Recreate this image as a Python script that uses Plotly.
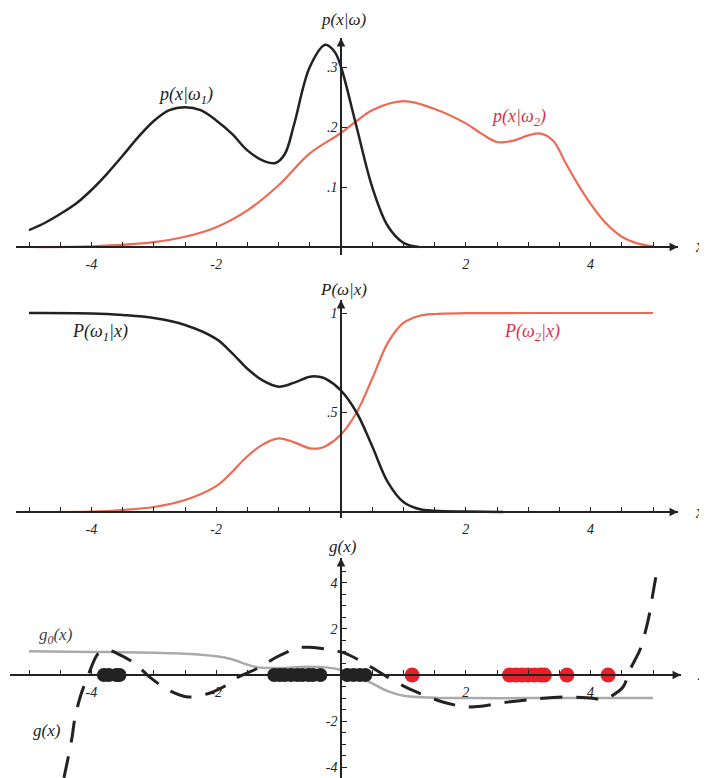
import plotly.graph_objects as go

W, H = 707, 778
OFF = 8  # page body margin that the browser adds around the figure
FONT = "Liberation Serif"
BLACK = "#222222"
RED_LINE = "#ee6a55"
RED_TEXT = "#d8304c"
RED_DOT = "#e8202a"
GRAY = "#aaaaaa"

# ---------------- data: panel 1, class-conditional densities ----------------
x_p1 = [-5, -4.75, -4.5, -4.25, -4, -3.75, -3.5, -3.25, -3, -2.75, -2.5, -2.25, -2,
        -1.75, -1.5, -1.25, -1.05, -0.9, -0.75, -0.5, -0.25, -0.1, 0, 0.25, 0.5,
        0.75, 1.0, 1.25]
p_w1 = [0.028, 0.040, 0.055, 0.072, 0.095, 0.122, 0.152, 0.183, 0.210, 0.228, 0.233,
        0.228, 0.211, 0.189, 0.161, 0.144, 0.140, 0.155, 0.205, 0.300, 0.337, 0.325,
        0.300, 0.200, 0.100, 0.035, 0.007, 0.0]
x_p2 = [-5, -4, -3, -2.5, -2, -1.5, -1, -0.5, 0, 0.25, 0.5, 1.0, 1.5, 2.0, 2.25, 2.5,
        2.75, 3.0, 3.2, 3.4, 3.6, 3.8, 4.0, 4.25, 4.5, 4.75, 5]
p_w2 = [0.0, 0.001, 0.008, 0.017, 0.033, 0.061, 0.103, 0.156, 0.190, 0.210, 0.228,
        0.243, 0.230, 0.206, 0.189, 0.175, 0.177, 0.186, 0.189, 0.177, 0.140, 0.104,
        0.072, 0.039, 0.017, 0.006, 0.001]

# ---------------- data: panel 2, posteriors ----------------
x_post1 = [-5, -4, -3.5, -3, -2.5, -2, -1.75, -1.5, -1.25, -1.0, -0.75, -0.5, -0.35,
           -0.25, 0, 0.25, 0.5, 0.75, 1.0, 1.25, 1.5, 2.0, 2.6]
post_w1 = [1.0, 0.998, 0.99, 0.975, 0.94, 0.87, 0.80, 0.72, 0.66, 0.63, 0.65, 0.68,
           0.68, 0.67, 0.61, 0.50, 0.33, 0.15, 0.05, 0.015, 0.006, 0.002, 0.0]
x_post2 = [-5, -4, -3.5, -3, -2.5, -2, -1.75, -1.5, -1.25, -1.0, -0.75, -0.5, -0.35,
           -0.25, 0, 0.25, 0.5, 0.75, 1.0, 1.25, 1.5, 2.0, 3.0, 5.0]
post_w2 = [0.0, 0.002, 0.01, 0.025, 0.06, 0.13, 0.20, 0.28, 0.34, 0.37, 0.35, 0.32,
           0.32, 0.33, 0.39, 0.50, 0.67, 0.85, 0.95, 0.985, 0.995, 0.999, 1.0, 1.0]

# ---------------- data: panel 3, discriminants and samples ----------------
x_g0 = [-5, -4, -3.5, -3, -2.5, -2, -1.75, -1.5, -1.33, -1.0, -0.75, -0.5, -0.25, 0,
        0.25, 0.5, 0.75, 1.0, 1.5, 2.0, 3.0, 4.0, 5.0]
g0_vals = [1.03, 1.0, 0.99, 0.96, 0.92, 0.81, 0.68, 0.45, 0.33, 0.30, 0.33, 0.36,
           0.33, 0.22, 0.0, -0.36, -0.70, -0.90, -0.98, -1.0, -1.0, -1.0, -1.0]
x_g = [-4.44, -4.37, -4.31, -4.27, -4.18, -4.05, -3.9, -3.75, -3.6, -3.33, -3.06,
       -2.77, -2.45, -2.1, -1.78, -1.65, -1.33, -1.03, -0.69, -0.5, -0.26, 0.06, 0.43,
       0.74, 1.07, 1.63, 2.0, 2.25, 2.6, 3.0, 3.6, 4.0, 4.2, 4.31, 4.52, 4.63, 4.79,
       4.88, 4.95, 5.0, 5.06]
g_vals = [-4.45, -3.55, -2.7, -1.95, -0.95, 0.0, 0.9, 1.1, 0.95, 0.55, -0.1, -0.65,
          -0.95, -0.78, -0.36, -0.1, 0.3, 0.78, 1.18, 1.2, 1.13, 0.95, 0.43, -0.08,
          -0.57, -1.17, -1.38, -1.35, -1.2, -1.07, -0.95, -1.0, -1.05, -0.95, -0.52,
          0.22, 1.08, 1.9, 2.73, 3.55, 4.46]
dots_w1 = [-3.8, -3.72, -3.6, -3.55, -1.07, -0.98, -0.9, -0.8, -0.7, -0.62, -0.52,
           -0.45, -0.33, 0.1, 0.2, 0.3, 0.39]
dots_w2 = [1.14, 2.70, 2.8, 2.9, 3.0, 3.1, 3.2, 3.26, 3.62, 4.28]

# ---------------- ticks ----------------
x_tickvals = [-4, -2, 2, 4]
x_ticktext = ["-4", "-2", "2", "4"]
x_minorvals = [-5, -4.5, -3.5, -3, -2.5, -1.5, -1, -0.5, 0.5, 1, 1.5, 2.5, 3, 3.5,
               4.5, 5]
y1_tickvals = [0.1, 0.2, 0.3]
y1_ticktext = [".1", ".2", ".3"]
y2_tickvals = [0.5, 1]
y2_ticktext = [".5", "1"]
y3_tickvals = [-4, -2, 2, 4]
y3_ticktext = ["-4", "-2", "2", "4"]
y3_minorvals = [-3.5, -3, -2.5, -1.5, -1, -0.5, 0.5, 1, 1.5, 2.5, 3, 3.5, 4.5]

# ---------------- geometry (pixels in the 707x778 window) ----------------
X0PX, UX = 341.0, 62.4
panels = [
    # x domain px, y domain px (bottom, top), y zero px, px per unit
    dict(xd=(16, 678), yd=(255, 38), y0=247.0, uy=600.0, minor=None),
    dict(xd=(16, 678), yd=(518, 300), y0=512.0, uy=199.0, minor=None),
    dict(xd=(10, 681), yd=(778, 558), y0=675.0, uy=23.1, minor=y3_minorvals),
]


def fx(p):  # window px -> paper x
    return (p - OFF) / W


def fy(p):  # window px -> paper y
    return 1 - (p - OFF) / H


fig = go.Figure()

# Panel 1 traces
fig.add_trace(go.Scatter(x=x_p2, y=p_w2, mode="lines", line=dict(color=RED_LINE, width=2.2, shape="spline"),
                         xaxis="x", yaxis="y", hoverinfo="skip"))
fig.add_trace(go.Scatter(x=x_p1, y=p_w1, mode="lines", line=dict(color=BLACK, width=2.5, shape="spline"),
                         xaxis="x", yaxis="y", hoverinfo="skip"))
# Panel 2 traces
fig.add_trace(go.Scatter(x=x_post2, y=post_w2, mode="lines", line=dict(color=RED_LINE, width=2.2, shape="spline"),
                         xaxis="x2", yaxis="y2", hoverinfo="skip"))
fig.add_trace(go.Scatter(x=x_post1, y=post_w1, mode="lines", line=dict(color=BLACK, width=2.5, shape="spline"),
                         xaxis="x2", yaxis="y2", hoverinfo="skip"))
# Panel 3 traces
fig.add_trace(go.Scatter(x=x_g0, y=g0_vals, mode="lines", line=dict(color=GRAY, width=2.5, shape="spline"),
                         xaxis="x3", yaxis="y3", hoverinfo="skip"))
fig.add_trace(go.Scatter(x=x_g, y=g_vals, mode="lines",
                         line=dict(color=BLACK, width=3, shape="spline", smoothing=0.8, dash="22px,14px"),
                         xaxis="x3", yaxis="y3", hoverinfo="skip"))
fig.add_trace(go.Scatter(x=dots_w1, y=[0] * len(dots_w1), mode="markers",
                         marker=dict(color=BLACK, size=14, line=dict(width=0)),
                         xaxis="x3", yaxis="y3", hoverinfo="skip"))
fig.add_trace(go.Scatter(x=dots_w2, y=[0] * len(dots_w2), mode="markers",
                         marker=dict(color=RED_DOT, size=15, line=dict(width=0)),
                         xaxis="x3", yaxis="y3", hoverinfo="skip"))

layout = dict(width=W, height=H, margin=dict(l=0, r=0, t=0, b=0),
              paper_bgcolor="white", plot_bgcolor="white", showlegend=False)

yticks = [(y1_tickvals, y1_ticktext), (y2_tickvals, y2_ticktext), (y3_tickvals, y3_ticktext)]
annotations = []
tickfont = dict(family=FONT, size=14, color="#222222", style="italic")

for i, p in enumerate(panels):
    sfx = "" if i == 0 else str(i + 1)
    xr = [(p["xd"][0] - X0PX) / UX, (p["xd"][1] - X0PX) / UX]
    yr = [(p["y0"] - p["yd"][0]) / p["uy"], (p["y0"] - p["yd"][1]) / p["uy"]]
    xdom = [fx(p["xd"][0]), fx(p["xd"][1])]
    ydom = [max(0.0, fy(p["yd"][0])), fy(p["yd"][1])]
    if ydom[0] == 0.0:
        yr[0] = (p["y0"] - (H + OFF)) / p["uy"]
    layout["xaxis" + sfx] = dict(
        domain=xdom, range=xr, anchor="free", position=fy(p["y0"]),
        showline=True, linecolor=BLACK, linewidth=1.5, showgrid=False, zeroline=False,
        tickmode="array", tickvals=x_tickvals, ticktext=x_ticktext,
        ticks="inside", ticklen=4, tickwidth=1, tickcolor=BLACK,
        minor=dict(tickmode="array", tickvals=x_minorvals, ticks="inside", ticklen=4,
                   tickwidth=1, tickcolor=BLACK, showgrid=False),
        tickfont=tickfont, ticklabelstandoff=4, fixedrange=True)
    tv, tt = yticks[i]
    yax = dict(
        domain=ydom, range=yr, anchor="free", position=fx(X0PX),
        showline=True, linecolor=BLACK, linewidth=1.5, showgrid=False, zeroline=False,
        tickmode="array", tickvals=tv, ticktext=tt,
        ticks="inside", ticklen=5, tickwidth=1, tickcolor=BLACK,
        tickfont=tickfont, fixedrange=True)
    if p["minor"] is not None:
        yax["minor"] = dict(tickmode="array", tickvals=p["minor"], ticks="inside", ticklen=4,
                            tickwidth=1, tickcolor=BLACK, showgrid=False)
    layout["yaxis" + sfx] = yax
    xa, ya = "x" + sfx, "y" + sfx
    # arrow heads
    annotations.append(dict(x=xr[1], y=0, ax=xr[1] - 0.4, ay=0, xref=xa, yref=ya,
                            axref=xa, ayref=ya, showarrow=True, arrowhead=2, arrowsize=1.3,
                            arrowwidth=1.3, arrowcolor=BLACK, text=""))
    dy = (yr[1] - yr[0]) * 0.06
    annotations.append(dict(x=0, y=yr[1], ax=0, ay=yr[1] - dy, xref=xa, yref=ya,
                            axref=xa, ayref=ya, showarrow=True, arrowhead=2, arrowsize=1.3,
                            arrowwidth=1.3, arrowcolor=BLACK, text=""))


def label(text, px, py, color="#222222", size=18, yanchor="middle"):
    annotations.append(dict(text="<i>" + text + "</i>", x=fx(px), y=fy(py),
                            xref="paper", yref="paper", showarrow=False,
                            xanchor="center", yanchor=yanchor,
                            font=dict(family=FONT, size=size, color=color)))


label("p(x|ω)", 343, 8, size=17, yanchor="top")
label("p(x|ω<sub>1</sub>)", 186, 95)
label("p(x|ω<sub>2</sub>)", 518, 118, color=RED_TEXT)
label("x", 699, 246)
label("P(ω|x)", 343, 290, size=17)
label("P(ω<sub>1</sub>|x)", 100, 332)
label("P(ω<sub>2</sub>|x)", 532, 332, color=RED_TEXT)
label("x", 699, 512)
label("g(x)", 343, 546, size=17)
label("g<sub>0</sub>(x)", 56, 636, color="#444444", size=17)
label("g(x)", 47, 730, size=17)
label("x", 701, 674)

layout["annotations"] = annotations
fig.update_layout(**layout)
fig.write_html("out.html")
